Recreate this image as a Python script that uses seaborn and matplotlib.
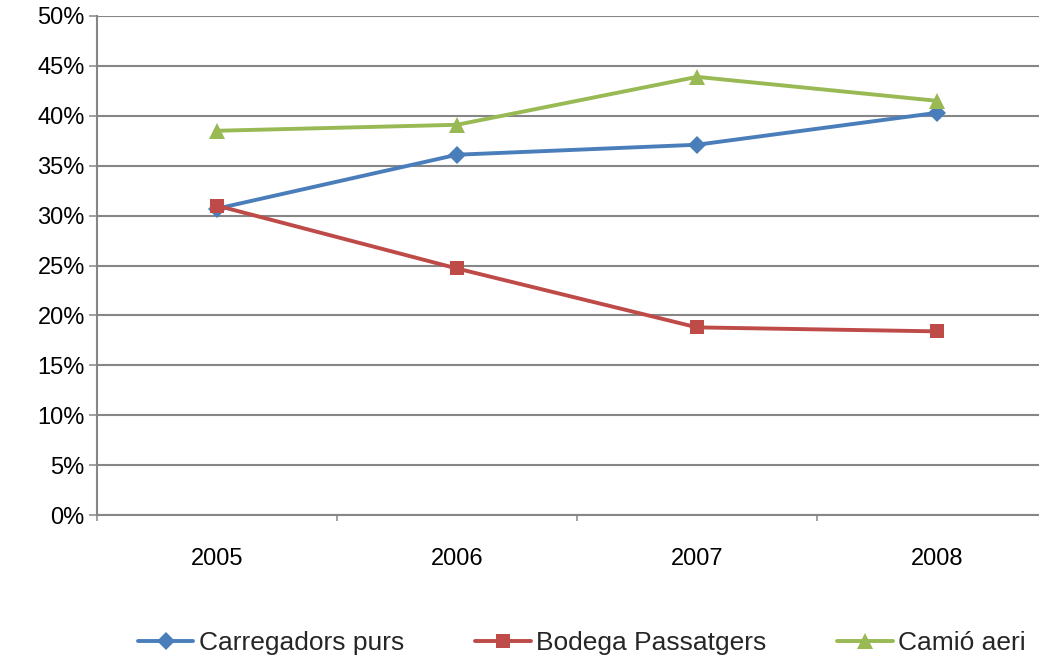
import matplotlib
matplotlib.use("Agg")
import matplotlib.pyplot as plt
import seaborn as sns
import pandas as pd
from matplotlib.ticker import FuncFormatter, FixedLocator

years = ["2005", "2006", "2007", "2008"]
carregadors = [30.7, 36.1, 37.1, 40.3]
bodega = [31.0, 24.7, 18.8, 18.4]
camio = [38.5, 39.1, 43.9, 41.5]
series_names = ["Carregadors purs", "Bodega Passatgers", "Camió aeri"]
yticks = list(range(0, 51, 5))

sns.set_theme(style="white")
plt.rcParams["font.family"] = ["Liberation Sans", "DejaVu Sans"]

df = pd.DataFrame({
    "Any": years * 3,
    "Valor": carregadors + bodega + camio,
    "Serie": [series_names[0]] * 4 + [series_names[1]] * 4 + [series_names[2]] * 4,
})

colors = {series_names[0]: "#4A7EBB", series_names[1]: "#BE4B48", series_names[2]: "#98B954"}
markers = {series_names[0]: "D", series_names[1]: "s", series_names[2]: "^"}
msizes = {series_names[0]: 9.5, series_names[1]: 10, series_names[2]: 11}

fig = plt.figure(figsize=(10.39, 6.62), dpi=100)
ax = fig.add_axes([97 / 1039, 1 - 515 / 662, (1057 - 97) / 1039, (515 - 16) / 662])

for name in series_names:
    sub = df[df["Serie"] == name]
    sns.lineplot(data=sub, x="Any", y="Valor", ax=ax, color=colors[name], lw=2.8,
                 marker=markers[name], markersize=msizes[name], markeredgewidth=0,
                 label=name, sort=False)

ax.set_xlim(-0.5, 3.5)
ax.set_ylim(0, 50)
ax.set_yticks(yticks)
ax.yaxis.set_major_formatter(FuncFormatter(lambda v, p: f"{int(v)}%"))
ax.set_xlabel("")
ax.set_ylabel("")
ax.yaxis.grid(True, color="#868686", lw=1.5)
ax.set_axisbelow(True)

ax.set_xticks(range(len(years)))
ax.set_xticklabels(years)
ax.tick_params(axis="x", which="major", length=0, pad=24, labelsize=17, colors="black")
ax.xaxis.set_minor_locator(FixedLocator([-0.5, 0.5, 1.5, 2.5, 3.5]))
ax.tick_params(axis="x", which="minor", bottom=True, length=4.3, width=1.1, color="#868686")
ax.tick_params(axis="y", left=True, length=5.8, width=1.1, color="#868686", labelsize=17, pad=3, labelcolor="black")

for s in ["top", "right"]:
    ax.spines[s].set_visible(False)
for s in ["left", "bottom"]:
    ax.spines[s].set_color("#868686")
    ax.spines[s].set_linewidth(1.5)

ax.legend_.remove()
handles, labels = ax.get_legend_handles_labels()
fig.legend(handles, labels, loc="center", bbox_to_anchor=(0.560, 1 - 643 / 662), ncol=3,
           frameon=False, handlelength=2.1, handletextpad=0.2, columnspacing=2.7,
           prop={"family": ["Liberation Sans", "DejaVu Sans"], "size": 19})

fig.savefig("out.png", dpi=100)
